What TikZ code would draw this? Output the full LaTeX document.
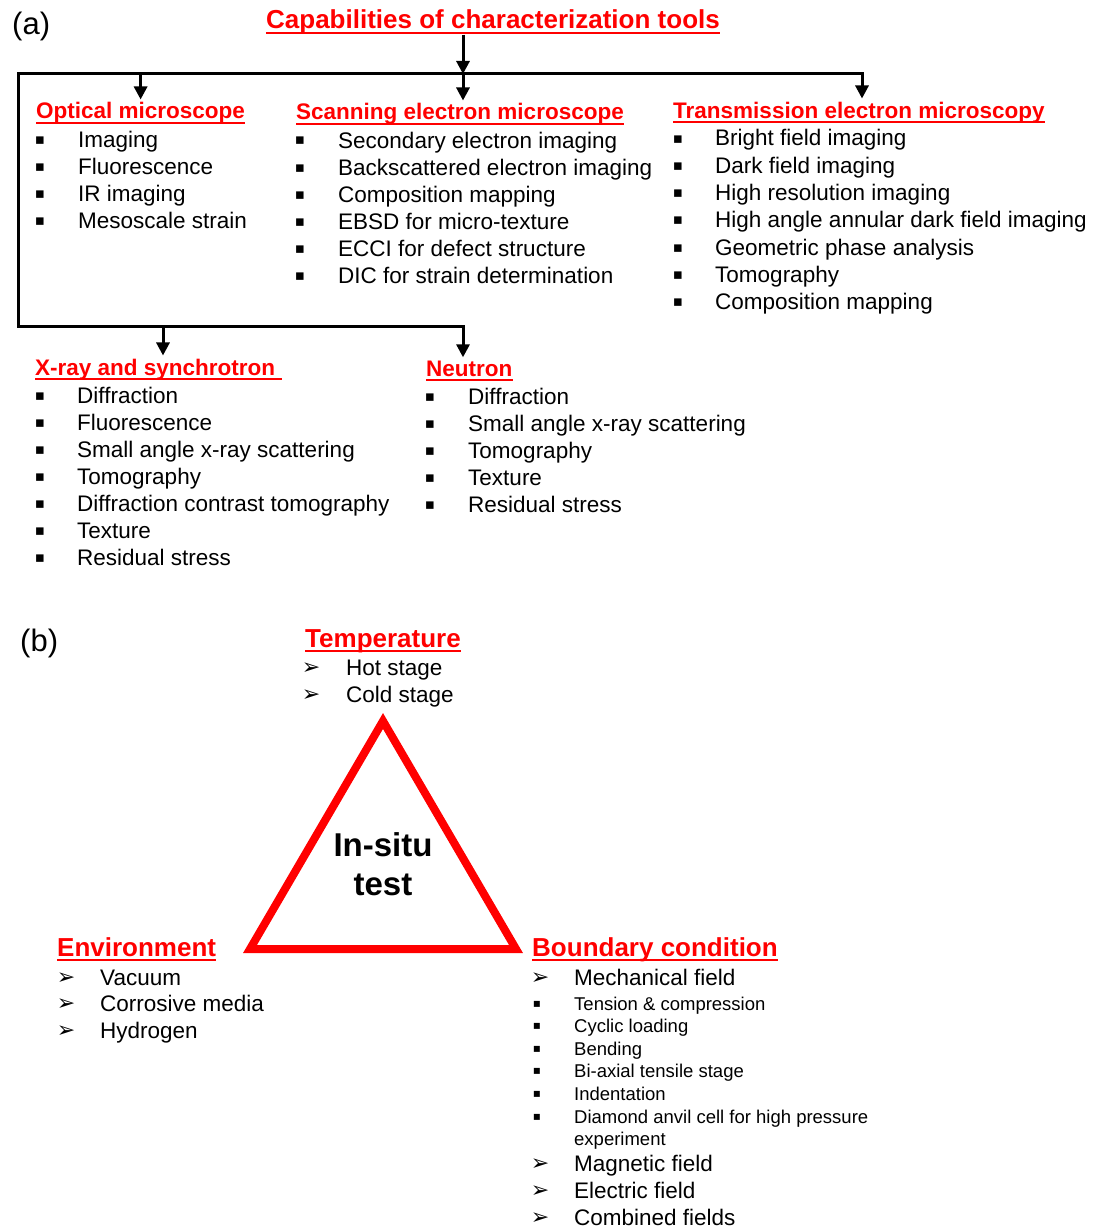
\documentclass[tikz,border=0pt]{standalone}
\usepackage{fontspec}
\setmainfont{Liberation Sans}
\newfontfamily\symfont{DejaVu Sans}
\usetikzlibrary{arrows.meta, positioning}

\begin{document}
\begin{tikzpicture}[
		x=1pt,
		y=-1pt,
		font=\fontsize{22.5}{27}\selectfont,
		txt/.style={anchor=base west, inner sep=0pt},
		small/.style={txt, font=\fontsize{18.5}{22}\selectfont},
		hd/.style={anchor=base west, inner sep=0pt, text=red,
			font=\fontsize{22.5}{27}\selectfont\bfseries,
			append after command={([yshift=-4pt]\tikzlastnode.base west)
				edge[draw=red, line width=2pt] ([yshift=-4pt]\tikzlastnode.base east)}},
		bighd/.style={hd, font=\fontsize{26}{30}\selectfont\bfseries},
		sq/.style={anchor=base, inner sep=0pt, yshift=3pt, font=\symfont\fontsize{15}{15}\selectfont},
		ah/.style={anchor=base, inner sep=0pt, yshift=1pt, font=\symfont\fontsize{22}{22}\selectfont},
		bar/.style={line width=3pt, line cap=rect},
		arr/.style={-{Triangle[length=13pt, width=13pt]}, line width=3pt, shorten >=3pt}
		]
		\useasboundingbox (0,0) rectangle (1103,1228);
		
		% (a) tools
		\node[txt, font=\fontsize{31}{31}\selectfont] (la) at (12,35) {(a)};
		\node[bighd, anchor=base] (title) at (493,29) {Capabilities of characterization tools};
		
		\coordinate (j0) at (463,74);
		\coordinate (barL) at (18,74);
		\coordinate (barR) at (862,74);
		\coordinate (lowL) at (18,326);
		\coordinate (lowR) at (463,326);
		\coordinate (lowX) at (163,326);
		
		% Optical microscope
		\node[hd] (om) at (36,119) {Optical microscope};
		\foreach \t [count=\i] in {Imaging, Fluorescence, IR imaging, Mesoscale strain}{
			\node[sq] (omb\i) at (40,{147+27*(\i-1)}) {▪};
			\node[txt] (om\i) at (78,{147+27*(\i-1)}) {\t};
		}
		
		% Scanning electron microscope
		\node[hd] (sem) at (296,120) {Scanning electron microscope};
		\foreach \t [count=\i] in {Secondary electron imaging, Backscattered electron imaging,
			Composition mapping, EBSD for micro-texture, ECCI for defect structure,
			DIC for strain determination}{
			\node[sq] (semb\i) at (300,{148+27*(\i-1)}) {▪};
			\node[txt] (sem\i) at (338,{148+27*(\i-1)}) {\t};
		}
		
		% Transmission electron microscopy
		\node[hd] (tem) at (673,118) {Transmission electron microscopy};
		\foreach \t [count=\i] in {Bright field imaging, Dark field imaging, High resolution imaging,
			High angle annular dark field imaging, Geometric phase analysis, Tomography,
			Composition mapping}{
			\node[sq] (temb\i) at (678,{146+27.3*(\i-1)}) {▪};
			\node[txt] (tem\i) at (715,{146+27.3*(\i-1)}) {\t};
		}
		
		% X-ray and synchrotron
		\node[hd] (xr) at (35,375) {X-ray and synchrotron\kern7pt};
		\foreach \t [count=\i] in {Diffraction, Fluorescence, Small angle x-ray scattering, Tomography,
			Diffraction contrast tomography, Texture, Residual stress}{
			\node[sq] (xrb\i) at (40,{403+27*(\i-1)}) {▪};
			\node[txt] (xr\i) at (77,{403+27*(\i-1)}) {\t};
		}
		
		% Neutron
		\node[hd] (nt) at (426,376) {Neutron};
		\foreach \t [count=\i] in {Diffraction, Small angle x-ray scattering, Tomography, Texture,
			Residual stress}{
			\node[sq] (ntb\i) at (430,{404+27*(\i-1)}) {▪};
			\node[txt] (nt\i) at (468,{404+27*(\i-1)}) {\t};
		}
		
		% Tree connectors
		\draw[arr, shorten >=0pt] (j0 |- title.south) -- (j0);
		\draw[bar] (lowR) -- (lowL) -- (barL) -- (barR);
		\draw[arr] (om.north |- barL) -- (om.north);
		\draw[arr] (j0) -- (j0 |- sem.north);
		\draw[arr] (barR) -- (barR |- tem.north);
		\draw[arr] (lowX) -- (lowX |- xr.north);
		\draw[arr] (lowR) -- (lowR |- nt.north);
		
		% (b) in-situ test
		\node[txt, font=\fontsize{31}{31}\selectfont] (lb) at (20,651) {(b)};
		
		% Temperature
		\node[bighd, anchor=base] (tp) at (383,647) {Temperature};
		\foreach \t [count=\i] in {Hot stage, Cold stage}{
			\node[ah] (tpb\i) at (311,{675+27*(\i-1)}) {➢};
			\node[txt] (tp\i) at (346,{675+27*(\i-1)}) {\t};
		}
		
		% Triangle
		\coordinate (apex) at (383,721);
		\coordinate (cornL) at (250,949);
		\coordinate (cornR) at (516,949);
		\draw[red, line width=8pt, line join=miter] (apex) -- (cornL) -- (cornR) -- cycle;
		\node[anchor=base, inner sep=0pt, font=\fontsize{33}{33}\selectfont\bfseries] (insitu) at (383,856) {In-situ};
		\node[anchor=base, inner sep=0pt, font=\fontsize{33}{33}\selectfont\bfseries] (test) at (383,895) {test};
		
		% Environment
		\node[bighd] (env) at (57,956) {Environment};
		\foreach \t [count=\i] in {Vacuum, Corrosive media, Hydrogen}{
			\node[ah] (envb\i) at (66,{985+26.7*(\i-1)}) {➢};
			\node[txt] (env\i) at (100,{985+26.7*(\i-1)}) {\t};
		}
		
		% Boundary condition
		\node[bighd] (bc) at (532,956) {Boundary condition};
		\node[ah] (bcb1) at (540,985) {➢};
		\node[txt] (bc1) at (574,985) {Mechanical field};
		\foreach \t [count=\i] in {Tension \& compression, Cyclic loading, Bending,
			Bi-axial tensile stage, Indentation, Diamond anvil cell for high pressure}{
			\node[sq, font=\symfont\fontsize{12}{12}\selectfont] (mfb\i) at (537,{1010+22.6*(\i-1)}) {▪};
			\node[small] (mf\i) at (574,{1010+22.6*(\i-1)}) {\t};
		}
		\node[small] (mf7) at (574,1145) {experiment};
		\foreach \t [count=\i] in {Magnetic field, Electric field, Combined fields}{
			\node[ah] (bcb\i x) at (540,{1171+27*(\i-1)}) {➢};
			\node[txt] (bcf\i) at (574,{1171+27*(\i-1)}) {\t};
		}
		
	\end{tikzpicture}
\end{document}
